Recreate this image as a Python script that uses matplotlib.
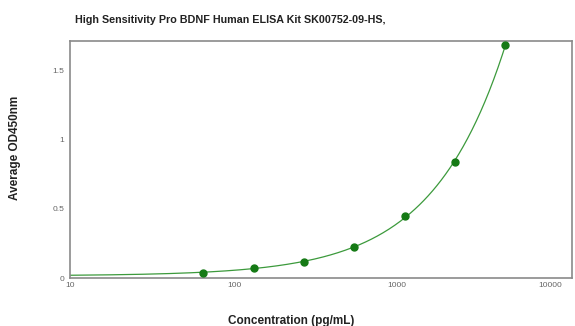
import numpy as np
import matplotlib.pyplot as plt
from matplotlib.transforms import ScaledTranslation

plt.rcParams["font.family"] = ["Liberation Sans", "DejaVu Sans"]

# standard concentrations and measured OD
concentration = [62.5, 125, 250, 500, 1000, 2000, 4000]
od450 = [0.04, 0.07, 0.115, 0.225, 0.45, 0.84, 1.68]

x_ticks = [10, 100, 1000, 10000]
x_tick_labels = ["10", "100", "1000", "10000"]
y_ticks = [0, 0.5, 1, 1.5]
y_tick_labels = ["0", "0.5", "1", "1.5"]


def main():
    fig = plt.figure(figsize=(5.75, 3.26), dpi=100)
    ax = fig.add_axes([0.1217, 0.147, 0.873, 0.727])

    # fitted standard curve
    coef = np.polyfit(concentration, od450, 2)
    xs = np.logspace(1, np.log10(max(concentration)), 300)
    ax.plot(xs, np.polyval(coef, xs), color="#3c9a3c", lw=0.9, zorder=2)
    ax.plot(concentration, od450, "o", color="#157a15", ms=5, zorder=3)

    ax.set_xscale("log")
    ax.set_xlim(10, 10000)
    ax.set_ylim(0, 1.71)
    ax.set_xticks(x_ticks)
    ax.set_xticklabels(x_tick_labels)
    ax.set_xticks([], minor=True)
    ax.set_yticks(y_ticks)
    ax.set_yticklabels(y_tick_labels)
    ax.tick_params(length=0, labelsize=6, colors="#666666")
    ax.tick_params(axis="x", pad=3)
    ax.tick_params(axis="y", pad=4)

    # shift x tick labels a bit left, last one right-aligned like the reference
    shifts = [0, -3, -8, -10]
    for lbl, dx in zip(ax.get_xticklabels(), shifts):
        lbl.set_transform(lbl.get_transform() + ScaledTranslation(dx / 100, 0, fig.dpi_scale_trans))
    ax.get_xticklabels()[-1].set_horizontalalignment("right")

    for s in ax.spines.values():
        s.set_color("#8a8a8a")
        s.set_linewidth(1.2)

    fig.text(0.13, 0.94, "High Sensitivity Pro BDNF Human ELISA Kit SK00752-09-HS,",
             fontsize=7.75, fontweight="bold", ha="left", va="center", color="#222222")
    fig.text(0.506, 0.016, "Concentration (pg/mL)", fontsize=8.5, fontweight="bold",
             ha="center", va="center", color="#222222")
    fig.text(0.026, 0.545, "Average OD450nm", fontsize=8.5, fontweight="bold",
             ha="center", va="center", rotation=90, color="#222222")

    fig.savefig("out.png", dpi=100)


if __name__ == "__main__":
    main()
